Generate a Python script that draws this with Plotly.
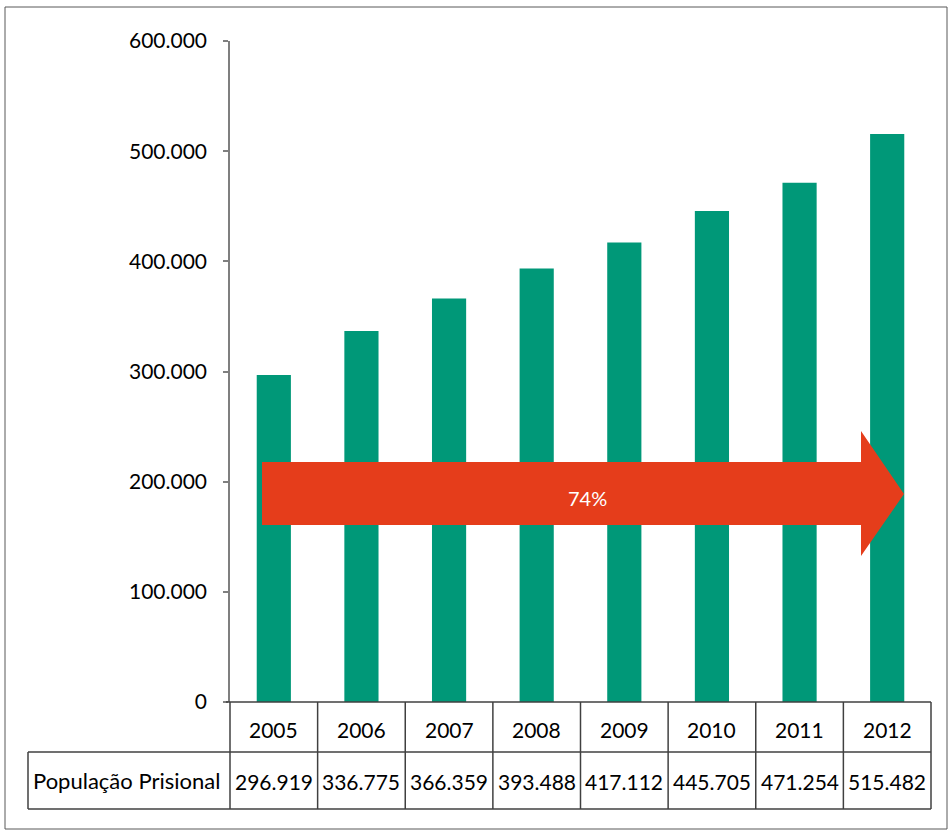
import plotly.graph_objects as go

years = ["2005", "2006", "2007", "2008", "2009", "2010", "2011", "2012"]
populacao = [296919, 336775, 366359, 393488, 417112, 445705, 471254, 515482]
row_label = "População Prisional"
arrow_label = "74%"
y_ticks = [0, 100000, 200000, 300000, 400000, 500000, 600000]

FONT = "Lato, 'Open Sans', sans-serif"
BAR = "#009878"
ARROW = "#E53D1B"
LINE = "#404040"
TXT = "#000000"

def fmt(v):
    return f"{v:,}".replace(",", ".")

fig = go.Figure()
fig.add_trace(go.Bar(x=years, y=populacao, marker=dict(color=BAR, line=dict(width=0)),
                     width=0.39, hoverinfo="skip"))

W, H = 949, 831
L, R, T, B = 230, 931, 41, 702
pw, ph = R - L, B - T

def px_x(p):
    return (p - L) / pw

def px_y(p):
    return (B - p) / ph

shapes = []
# outer border
shapes.append(dict(type="rect", xref="paper", yref="paper", x0=px_x(5), x1=px_x(947),
                   y0=px_y(829), y1=px_y(7), line=dict(color="#595959", width=1)))
# table
n = len(years)
y_row1_bot = px_y(752)
y_row2_bot = px_y(809)
shapes.append(dict(type="line", xref="paper", yref="paper", x0=px_x(226), x1=1, y0=0, y1=0,
                   line=dict(color=LINE, width=1.5)))
shapes.append(dict(type="line", xref="paper", yref="paper", x0=px_x(28), x1=1, y0=y_row1_bot, y1=y_row1_bot,
                   line=dict(color=LINE, width=1.5)))
shapes.append(dict(type="line", xref="paper", yref="paper", x0=px_x(28), x1=1, y0=y_row2_bot, y1=y_row2_bot,
                   line=dict(color=LINE, width=1.5)))
shapes.append(dict(type="line", xref="paper", yref="paper", x0=px_x(28), x1=px_x(28), y0=y_row2_bot, y1=y_row1_bot,
                   line=dict(color=LINE, width=1.5)))
for i in range(n + 1):
    xp = i / n
    shapes.append(dict(type="line", xref="paper", yref="paper", x0=xp, x1=xp, y0=y_row2_bot, y1=0,
                       line=dict(color=LINE, width=1.5)))

# arrow (x in paper, y in data)
def dy(p):
    return (B - p) / ph * 600000

ax0, ahx, atip = px_x(262), px_x(861), px_x(904)
path = (f"M {ax0},{dy(462)} L {ahx},{dy(462)} L {ahx},{dy(431)} L {atip},{dy(494)} "
        f"L {ahx},{dy(556)} L {ahx},{dy(525)} L {ax0},{dy(525)} Z")
shapes.append(dict(type="path", xref="paper", yref="y", path=path,
                   fillcolor=ARROW, line=dict(width=0), layer="above"))

annotations = []
for i, (yr, v) in enumerate(zip(years, populacao)):
    xc = (i + 0.5) / n
    annotations.append(dict(text=yr, xref="paper", yref="paper", x=xc, y=px_y(729),
                            showarrow=False, xanchor="center", yanchor="middle",
                            font=dict(family=FONT, size=21, color=TXT)))
    annotations.append(dict(text=fmt(v), xref="paper", yref="paper", x=xc, y=px_y(781),
                            showarrow=False, xanchor="center", yanchor="middle",
                            font=dict(family=FONT, size=21, color=TXT)))
annotations.append(dict(text=row_label, xref="paper", yref="paper", x=px_x(127), y=px_y(780),
                        showarrow=False, xanchor="center", yanchor="middle",
                        font=dict(family=FONT, size=22, color=TXT)))
annotations.append(dict(text=arrow_label, xref="paper", yref="y", x=px_x(587), y=dy(498),
                        showarrow=False, xanchor="center", yanchor="middle",
                        font=dict(family=FONT, size=20, color="white")))

fig.update_layout(
    width=W, height=H,
    margin=dict(l=L, r=W - R, t=T, b=H - B, pad=0),
    paper_bgcolor="white", plot_bgcolor="white",
    separators=",.",
    showlegend=False,
    bargap=0.61,
    shapes=shapes,
    annotations=annotations,
    xaxis=dict(showticklabels=False, showline=False, showgrid=False, zeroline=False, ticks=""),
    yaxis=dict(range=[0, 600000], tickvals=y_ticks, ticktext=[fmt(v) for v in y_ticks],
               showline=True, linecolor="#7f7f7f", linewidth=1.5,
               ticks="outside", ticklen=5, tickcolor="#7f7f7f", tickwidth=1.5,
               showgrid=False, zeroline=False, ticklabelstandoff=12,
               tickfont=dict(family=FONT, size=21, color=TXT)),
)

fig.write_html("out.html", config={"displayModeBar": False},
               post_script="document.body.style.margin='0';document.body.style.padding='0';")
